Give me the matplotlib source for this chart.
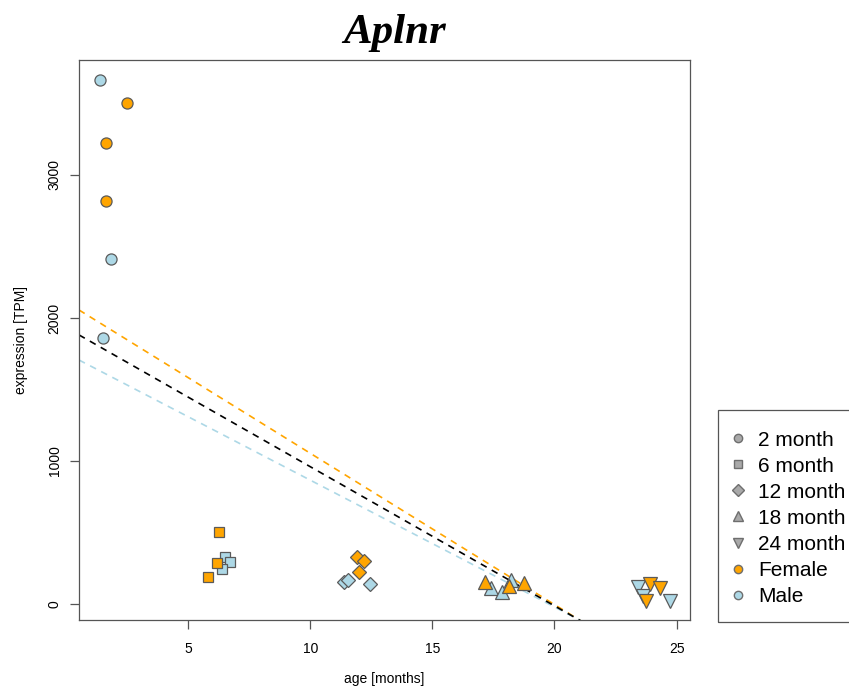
import matplotlib
matplotlib.use("Agg")
import matplotlib.pyplot as plt
from matplotlib.lines import Line2D
from matplotlib.patches import Rectangle

plt.rcParams["font.family"] = ["Liberation Sans", "DejaVu Sans"]

# ── data: age [months], expression [TPM], sex (F/M) per timepoint ────────────
age_2m  = [1.38, 2.49, 1.63, 1.63, 1.83, 1.50]
expr_2m = [3664, 3503, 3224, 2818, 2413, 1860]
sex_2m  = ["M", "F", "F", "F", "M", "M"]

age_6m  = [6.26, 5.81, 6.52, 6.73, 6.39, 6.18]
expr_6m = [501, 191, 327, 292, 245, 285]
sex_6m  = ["F", "F", "M", "M", "M", "F"]

age_12m  = [11.39, 11.53, 12.46, 11.91, 12.21, 12.01]
expr_12m = [156, 168, 140, 331, 301, 222]
sex_12m  = ["M", "M", "M", "F", "F", "F"]

age_18m  = [17.40, 17.87, 18.21, 17.15, 18.12, 18.77]
expr_18m = [110, 86, 168, 156, 126, 145]
sex_18m  = ["M", "M", "M", "F", "F", "F"]

age_24m  = [23.42, 23.63, 24.72, 23.90, 24.31, 23.74]
expr_24m = [117, 56, 23, 138, 110, 23]
sex_24m  = ["M", "M", "M", "F", "F", "F"]

# linear fits (intercept, slope): all, female, male
fit_all    = (1933, -97.3)
fit_female = (2112, -105.8)
fit_male   = (1753, -88.7)

# label, marker, plot size, legend size, data
groups = [
    ("2 month",  "o", 8.0,  6.0, age_2m,  expr_2m,  sex_2m),
    ("6 month",  "s", 7.5,  5.6, age_6m,  expr_6m,  sex_6m),
    ("12 month", "D", 7.0,  6.4, age_12m, expr_12m, sex_12m),
    ("18 month", "^", 10.5, 7.2, age_18m, expr_18m, sex_18m),
    ("24 month", "v", 10.5, 7.2, age_24m, expr_24m, sex_24m),
]
SEX_COL = {"F": "#FFA500", "M": "#ADD8E6"}
EDGE = "#5a5a5a"
AXCOL = "#555555"

W, H = 849, 689
fig = plt.figure(figsize=(W / 100, H / 100), dpi=100)
ax = fig.add_axes([79 / W, (H - 620) / H, 611 / W, 560 / H])

for label, mk, ms, _, xs, ys, ss in groups:
    for x, y, s in zip(xs, ys, ss):
        ax.plot(x, y, marker=mk, ms=ms, mfc=SEX_COL[s], mec=EDGE, mew=0.9,
                ls="none", zorder=3)

# regression lines across the full panel
xl = (0.53, 25.55)
for (b0, b1), col in [(fit_female, "#FFA500"), (fit_male, "#ADD8E6"), (fit_all, "black")]:
    ax.plot(xl, [b0 + b1 * xl[0], b0 + b1 * xl[1]], color=col, lw=1.2,
            ls=(0, (4, 3.5)), zorder=2)

ax.set_xlim(*xl)
ax.set_ylim(-112, 3804)
ax.set_xticks([5, 10, 15, 20, 25])
ax.set_yticks([0, 1000, 2000, 3000])
ax.tick_params(direction="out", length=6.5, width=0.9, colors=AXCOL,
               labelcolor="black", labelsize=10)
ax.tick_params(axis="x", pad=9)
ax.tick_params(axis="y", pad=6)
for lbl in ax.get_yticklabels():
    lbl.set_rotation(90)
    lbl.set_va("center")
for sp in ax.spines.values():
    sp.set_color(AXCOL)
    sp.set_linewidth(0.9)

ax.set_xlabel("age [months]", fontsize=10, labelpad=12)
ax.set_ylabel("expression [TPM]", fontsize=10, labelpad=14)
fig.text(395 / W, (H - 43) / H, "Aplnr", fontsize=31, fontweight="bold",
         fontstyle="italic", family="Liberation Serif", ha="center", va="baseline")

# legend box drawn by hand, runs off the right edge
fig.patches.append(Rectangle((718 / W, (H - 622) / H), 140 / W, 212 / H,
                             transform=fig.transFigure, fill=False,
                             edgecolor=AXCOL, linewidth=0.9))

handles = [Line2D([], [], marker=mk, ms=lms, mfc="#A9A9A9", mec="#6e6e6e", ls="none")
           for _, mk, _, lms, _, _, _ in groups]
handles += [Line2D([], [], marker="o", ms=6, mfc=SEX_COL["F"], mec="#6e6e6e", ls="none"),
            Line2D([], [], marker="o", ms=6, mfc=SEX_COL["M"], mec="#6e6e6e", ls="none")]
labels = [g[0] for g in groups] + ["Female", "Male"]
fig.legend(handles, labels, loc="upper left",
           bbox_to_anchor=(729.7 / W, (H - 430.5) / H), fontsize=15,
           frameon=False, handlelength=0.8, handletextpad=0.56,
           labelspacing=0.34, borderpad=0, borderaxespad=0)

fig.savefig("out.png", dpi=100)
